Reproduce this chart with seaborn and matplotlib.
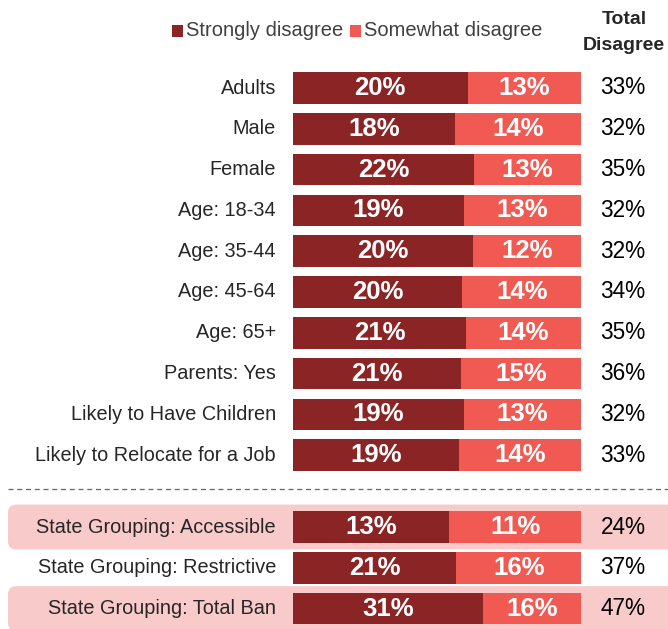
import matplotlib
matplotlib.use("Agg")
import matplotlib.pyplot as plt
from matplotlib.patches import FancyBboxPatch, Rectangle
import seaborn as sns
import pandas as pd

sns.set_style("white")
plt.rcParams['font.family'] = ['Liberation Sans', 'DejaVu Sans']

# data
groups = ['Adults', 'Male', 'Female', 'Age: 18-34', 'Age: 35-44', 'Age: 45-64',
          'Age: 65+', 'Parents: Yes', 'Likely to Have Children',
          'Likely to Relocate for a Job', 'State Grouping: Accessible',
          'State Grouping: Restrictive', 'State Grouping: Total Ban']
strongly = [20, 18, 22, 19, 20, 20, 21, 21, 19, 19, 13, 21, 31]
somewhat = [13, 14, 13, 13, 12, 14, 14, 15, 13, 14, 11, 16, 16]
total = [33, 32, 35, 32, 32, 34, 35, 36, 32, 33, 24, 37, 47]
row_pos = [0, 1, 2, 3, 4, 5, 6, 7, 8, 9, 10.76, 11.76, 12.76]
shaded = ['State Grouping: Accessible', 'State Grouping: Total Ban']

dark = '#8B2525'
light = '#F05A52'
pink = '#F9CACA'

df = pd.DataFrame({'group': groups, 'strong': strongly, 'some': somewhat,
                   'total': total, 'pos': row_pos})
df['share'] = df['strong'] / (df['strong'] + df['some'])
df['full'] = 1.0

fig = plt.figure(figsize=(6.68, 6.29), dpi=100)
ax = fig.add_axes([0, 0, 1, 1])

# pink highlight boxes behind some rows
for _, r in df[df['group'].isin(shaded)].iterrows():
    ax.add_patch(FancyBboxPatch((-285 / 288, r['pos'] - 0.55), 2.5, 1.1,
                                boxstyle="round,pad=0,rounding_size=0.028",
                                mutation_aspect=288 / 40.8, fc=pink, ec='none', zorder=0))

sns.barplot(data=df, x='full', y='pos', orient='h', native_scale=True,
            color=light, saturation=1, width=0.77, ax=ax, zorder=2)
sns.barplot(data=df, x='share', y='pos', orient='h', native_scale=True,
            color=dark, saturation=1, width=0.77, ax=ax, zorder=3)
for p in ax.patches:
    if isinstance(p, Rectangle) and not isinstance(p, FancyBboxPatch):
        p.set_edgecolor('none')

ax.set_xlim(-293 / 288, 375 / 288)
ax.set_ylim(541 / 40.8, -88 / 40.8)
ax.axis('off')

for _, r in df.iterrows():
    y = r['pos']
    ax.text(-17 / 288, y, r['group'], ha='right', va='center', fontsize=14.3, color='#262626')
    ax.text(r['share'] / 2, y, f"{r['strong']}%", ha='center', va='center',
            fontsize=18.5, fontweight='bold', color='white', zorder=4)
    ax.text((1 + r['share']) / 2, y, f"{r['some']}%", ha='center', va='center',
            fontsize=18.5, fontweight='bold', color='white', zorder=4)
    ax.text(330 / 288, y, f"{r['total']}%", ha='center', va='center',
            fontsize=16.3, color='black')

# dashed separator
ax.plot([-285 / 288, 375 / 288], [401 / 40.8, 401 / 40.8], ls=(0, (4, 3)),
        color='#666666', lw=0.9)

# legend and header
fig.patches.append(Rectangle((172 / 668, 1 - 37 / 629), 11 / 668, 12 / 629,
                             transform=fig.transFigure, fc=dark, ec='none'))
fig.text(186 / 668, 1 - 31 / 629, 'Strongly disagree', ha='left', va='center',
         fontsize=14.5, color='#404040')
fig.patches.append(Rectangle((350 / 668, 1 - 37 / 629), 11 / 668, 12 / 629,
                             transform=fig.transFigure, fc=light, ec='none'))
fig.text(364 / 668, 1 - 31 / 629, 'Somewhat disagree', ha='left', va='center',
         fontsize=14.5, color='#404040')
fig.text(624 / 668, 1 - 20 / 629, 'Total', ha='center', va='center',
         fontsize=14, fontweight='bold', color='#262626')
fig.text(624 / 668, 1 - 46 / 629, 'Disagree', ha='center', va='center',
         fontsize=14, fontweight='bold', color='#262626')

fig.savefig('out.png', dpi=100)
